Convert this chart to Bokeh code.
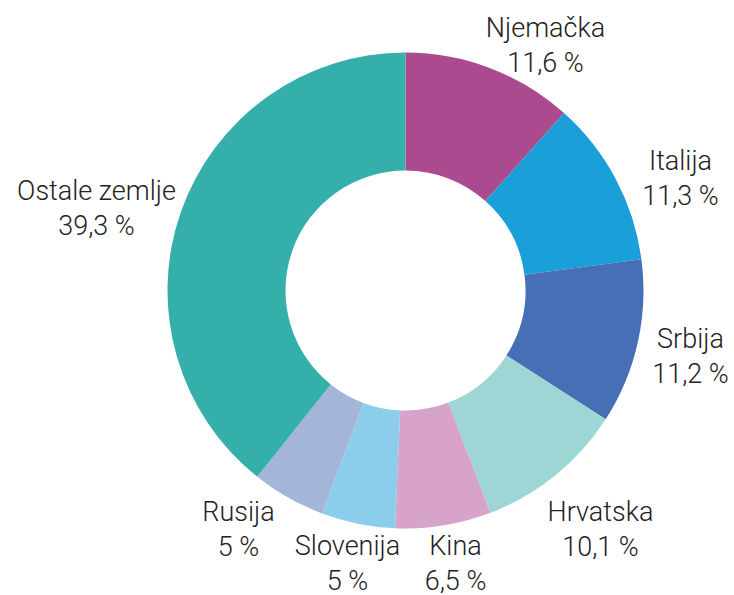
import math
from bokeh.plotting import figure
from bokeh.models import Range1d
from bokeh.core.properties import value
from bokeh.embed import file_html
from bokeh.resources import INLINE

countries = ["Njemačka", "Italija", "Srbija", "Hrvatska", "Kina", "Slovenija", "Rusija", "Ostale zemlje"]
shares = [11.6, 11.3, 11.2, 10.1, 6.5, 5.0, 5.0, 39.3]
share_labels = ["11,6 %", "11,3 %", "11,2 %", "10,1 %", "6,5 %", "5 %", "5 %", "39,3 %"]
colors = ["#AB4A8F", "#1B9FD9", "#466FB5", "#9DD6D4", "#D7A3C8", "#8CCDEB", "#A3B6DA", "#35AFA9"]

# label anchor positions (picture pixels, centre of the two-line label)
label_x = [545, 680, 690, 600, 455, 347, 238, 96]
label_y = [45, 178, 356, 529, 563, 563, 529, 208]

W, H = 734, 595
p = figure(width=W, height=H, output_backend="svg", toolbar_location=None,
           x_range=Range1d(0, W), y_range=Range1d(-H, 0),
           min_border=0, outline_line_color=None)
p.axis.visible = False
p.grid.visible = False
p.background_fill_color = "white"

cx, cy = 405, -290
total = sum(shares)
starts, ends = [], []
cum = 0.0
for s in shares:
    starts.append(math.pi / 2 - cum / total * 2 * math.pi)
    cum += s
    ends.append(math.pi / 2 - cum / total * 2 * math.pi)

p.annular_wedge(x=[cx] * len(shares), y=[cy] * len(shares), inner_radius=120, outer_radius=238,
                start_angle=starts, end_angle=ends, direction="clock",
                fill_color=colors, line_color=None)

font = value("Roboto Light")
p.text(x=label_x, y=[-y + 17.5 for y in label_y], text=countries, text_font=font,
       text_font_size="27px", text_align="center", text_baseline="middle", text_color="#222222")
p.text(x=label_x, y=[-y - 17.5 for y in label_y], text=share_labels, text_font=font,
       text_font_size="27px", text_align="center", text_baseline="middle", text_color="#222222")

open("out.html", "w").write(file_html(p, INLINE))
